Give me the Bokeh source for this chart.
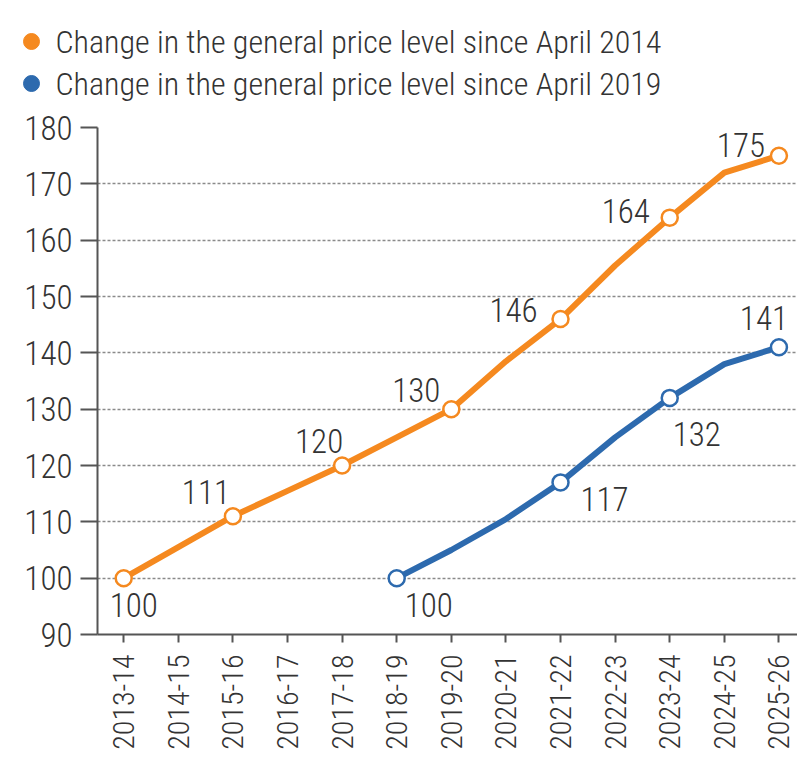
from bokeh.plotting import figure
from bokeh.layouts import column
from bokeh.models import Range1d, FixedTicker, ColumnDataSource
from bokeh.embed import file_html
from bokeh.resources import INLINE
from bokeh.core.properties import value
import math

# ---- data ----
years = ["2013-14", "2014-15", "2015-16", "2016-17", "2017-18", "2018-19", "2019-20",
         "2020-21", "2021-22", "2022-23", "2023-24", "2024-25", "2025-26"]
since_2014 = [100, 105.5, 111, 115.5, 120, 125, 130, 138.5, 146, 155.5, 164, 172, 175]
since_2019_years = ["2018-19", "2019-20", "2020-21", "2021-22", "2022-23", "2023-24", "2024-25", "2025-26"]
since_2019 = [100, 105, 110.5, 117, 125, 132, 138, 141]
labelled_2014 = ["2013-14", "2015-16", "2017-18", "2019-20", "2021-22", "2023-24", "2025-26"]
labelled_2019 = ["2018-19", "2021-22", "2023-24", "2025-26"]
legend_labels = ["Change in the general price level since April 2014",
                 "Change in the general price level since April 2019"]

# ---- styles / positions ----
ORANGE = "#F5891F"
BLUE = "#2D6AAE"
TEXT = "#333333"
FONT = "'Roboto Condensed Light', 'Roboto Condensed'"
off_2014 = [(10, 27), (-27, -24), (-23, -25), (-35, -19), (-47, -9), (-44, -7), (-38, -11)]
off_2019 = [(32, 27), (44, 17), (27, 36), (-15, -29)]
LEG_H = 105
LEG_X, LEG_Y0, LEG_DY, LEG_TEXT_GAP = 31, 41, 42, 24

idx = {y: i for i, y in enumerate(years)}
x_all = list(range(len(years)))
x_2019 = [idx[y] for y in since_2019_years]

# ---- legend strip (pixel-like coordinates, y downwards) ----
lg = figure(width=797, height=LEG_H, output_backend="svg", toolbar_location=None,
            x_range=Range1d(0, 797), y_range=Range1d(LEG_H, 0),
            min_border=0, x_axis_type=None, y_axis_type=None)
lg.outline_line_color = None
lg.grid.grid_line_color = None
leg_src = ColumnDataSource(dict(
    x=[LEG_X] * len(legend_labels),
    y=[LEG_Y0 + LEG_DY * i for i in range(len(legend_labels))],
    tx=[LEG_X + LEG_TEXT_GAP] * len(legend_labels),
    label=legend_labels,
    color=[ORANGE, BLUE],
))
lg.scatter(x="x", y="y", size=16, fill_color="color", line_color="color", source=leg_src)
lg.text(x="tx", y="y", text="label", source=leg_src, text_align="left", text_baseline="middle",
        text_font=value(FONT), text_font_size="32px", text_color=TEXT)

# ---- main chart ----
p = figure(width=797, height=660, output_backend="svg", toolbar_location=None,
           x_range=Range1d(-0.48, 12.34), y_range=Range1d(90, 180),
           min_border_left=97, min_border_right=0, min_border_top=22, min_border_bottom=131)
p.outline_line_color = None
p.background_fill_color = "white"
p.border_fill_color = "white"

# do not align the legend strip's frame with the chart's frame
for fig in (lg, p):
    if "frame_align" in fig.properties():
        fig.frame_align = False

p.xaxis.ticker = FixedTicker(ticks=x_all)
p.xaxis.major_label_overrides = {i: y for i, y in enumerate(years)}
p.xaxis.major_label_orientation = math.pi / 2
p.yaxis.ticker = FixedTicker(ticks=list(range(90, 181, 10)))
for ax in (p.xaxis, p.yaxis):
    ax.axis_line_color = "#555555"
    ax.axis_line_width = 2
    ax.major_tick_line_color = "#555555"
    ax.major_tick_line_width = 2
    ax.minor_tick_line_color = None
    ax.major_tick_in = 0
    ax.major_label_text_color = TEXT
    ax.major_label_text_font = FONT
p.yaxis.major_tick_out = 17
p.yaxis.major_label_standoff = 8
p.yaxis.major_label_text_font_size = "33px"
p.xaxis.major_tick_out = 8
p.xaxis.major_label_standoff = 12
p.xaxis.major_label_text_font_size = "30px"

p.xgrid.grid_line_color = None
p.ygrid.grid_line_color = "#8a8a8a"
p.ygrid.grid_line_dash = "3 2"
p.ygrid.grid_line_width = 1.5

p.line(x_all, since_2014, line_color=ORANGE, line_width=6)
p.line(x_2019, since_2019, line_color=BLUE, line_width=6)

lo_x = [idx[y] for y in labelled_2014]
lo_y = [since_2014[idx[y]] for y in labelled_2014]
lb_x = [idx[y] for y in labelled_2019]
lb_y = [since_2019[since_2019_years.index(y)] for y in labelled_2019]
p.scatter(lo_x, lo_y, size=16, fill_color="white", line_color=ORANGE, line_width=2.5)
p.scatter(lb_x, lb_y, size=16, fill_color="white", line_color=BLUE, line_width=2.5)

src = ColumnDataSource(dict(
    x=lo_x + lb_x,
    y=lo_y + lb_y,
    t=[str(round(v)) for v in lo_y + lb_y],
    xo=[o[0] for o in off_2014 + off_2019],
    yo=[o[1] for o in off_2014 + off_2019],
))
p.text(x="x", y="y", text="t", x_offset="xo", y_offset="yo", source=src,
       text_align="center", text_baseline="middle", text_font=value(FONT),
       text_font_size="33px", text_color=TEXT)

layout = column(lg, p, spacing=0)
open("out.html", "w").write(file_html(layout, INLINE))
